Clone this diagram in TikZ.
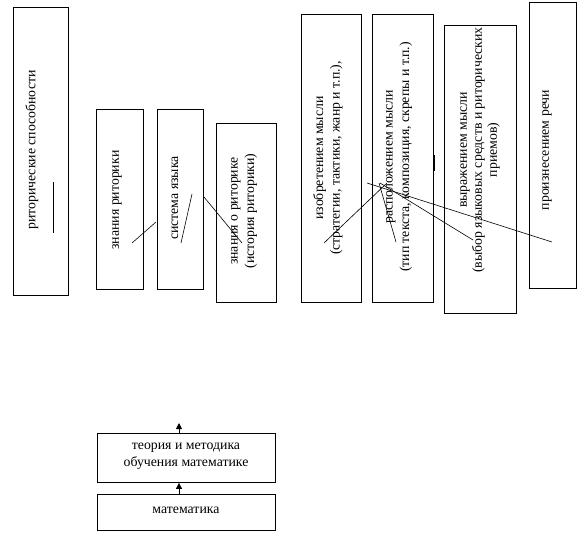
\documentclass[tikz,border=0pt]{standalone}
\usepackage{fontspec}
\setmainfont{Liberation Serif}
\usetikzlibrary{arrows.meta}
\begin{document}
\begin{tikzpicture}[x=1pt,y=-1pt,
  box/.style={draw, line width=0.9pt, inner sep=0pt, anchor=north west},
  lbl/.style={font=\fontsize{13.8}{16.5}\selectfont, align=center, inner sep=0pt},
  vlbl/.style={lbl, rotate=90},
  stroke/.style={line width=0.6pt},
  arr/.style={line width=0.9pt, -{Triangle[length=6pt,width=6pt]}}]
\useasboundingbox (0,0) rectangle (584,555);
% boxes
\node[box, minimum width=55pt, minimum height=288pt] (b1) at (13,7) {};
\node[box, minimum width=47pt, minimum height=180pt] (b2) at (96,109) {};
\node[box, minimum width=46pt, minimum height=180pt] (b3) at (157,109) {};
\node[box, minimum width=60pt, minimum height=179pt] (b4) at (216,123) {};
\node[box, minimum width=60pt, minimum height=288pt] (b5) at (301,14) {};
\node[box, minimum width=61pt, minimum height=288pt] (b6) at (372,14) {};
\node[box, minimum width=72pt, minimum height=288pt] (b7) at (444,25) {};
\node[box, minimum width=47pt, minimum height=286pt] (b8) at (529,2) {};
\node[box, minimum width=178pt, minimum height=49pt] (bA) at (97,433) {};
\node[box, minimum width=178pt, minimum height=36pt] (bB) at (97,494) {};
% labels
\node[vlbl] (t1) at (32,150) {риторические способности};
\node[vlbl] (t2) at (117,200) {знания риторики};
\node[vlbl] (t3) at (175,198) {система языка};
\node[vlbl] (t4) at (244,211) {знания о риторике\\(история риторики)};
\node[vlbl] (t5) at (328,158) {изобретением мысли\\(стратегии, тактики, жанр и т.п.),};
\node[vlbl] (t6) at (399,157) {расположением мысли\\(тип текста, композиция, скрепы и т.п.)};
\node[vlbl, font=\fontsize{13.8}{15}\selectfont] (t7) at (480,150) {выражением мысли\\(выбор языковых средств и риторических\\приемов)};
\node[vlbl] (t8) at (547,150) {произнесением речи};
\node[lbl] (tA) at (186,456) {теория и методика\\обучения математике};
\node[lbl] (tB) at (186,510) {математика};
% arrows
\coordinate (aTop) at (179,423);
\draw[arr] (bB.north -| aTop) -- (bA.south -| aTop);
\draw[arr] (bA.north -| aTop) -- (aTop);
% stray strokes
\coordinate (p1a) at (53,182); \coordinate (p1b) at (53,233);
\coordinate (p2a) at (132,243); \coordinate (p2b) at (156,222);
\coordinate (p3a) at (181,243); \coordinate (p3b) at (192,194);
\coordinate (p4a) at (204,197); \coordinate (p4b) at (242,243);
\coordinate (p5a) at (324,243); \coordinate (p5b) at (387,183);
\coordinate (p6a) at (367,183); \coordinate (p6b) at (552,242);
\coordinate (p7a) at (380,183); \coordinate (p7b) at (473,240);
\coordinate (p8a) at (379,183); \coordinate (p8b) at (396,242);
\coordinate (p9a) at (434,155); \coordinate (p9b) at (434,171);
\draw[line width=0.7pt] (p1a) -- (p1b);
\draw[stroke] (p2a) -- (p2b);
\draw[stroke] (p3a) -- (p3b);
\draw[stroke] (p4a) -- (p4b);
\draw[stroke] (p5a) -- (p5b);
\draw[stroke] (p6a) -- (p6b);
\draw[stroke] (p7a) -- (p7b);
\draw[stroke] (p8a) -- (p8b);
\draw[stroke] (p9a) -- (p9b);
\end{tikzpicture}
\end{document}
